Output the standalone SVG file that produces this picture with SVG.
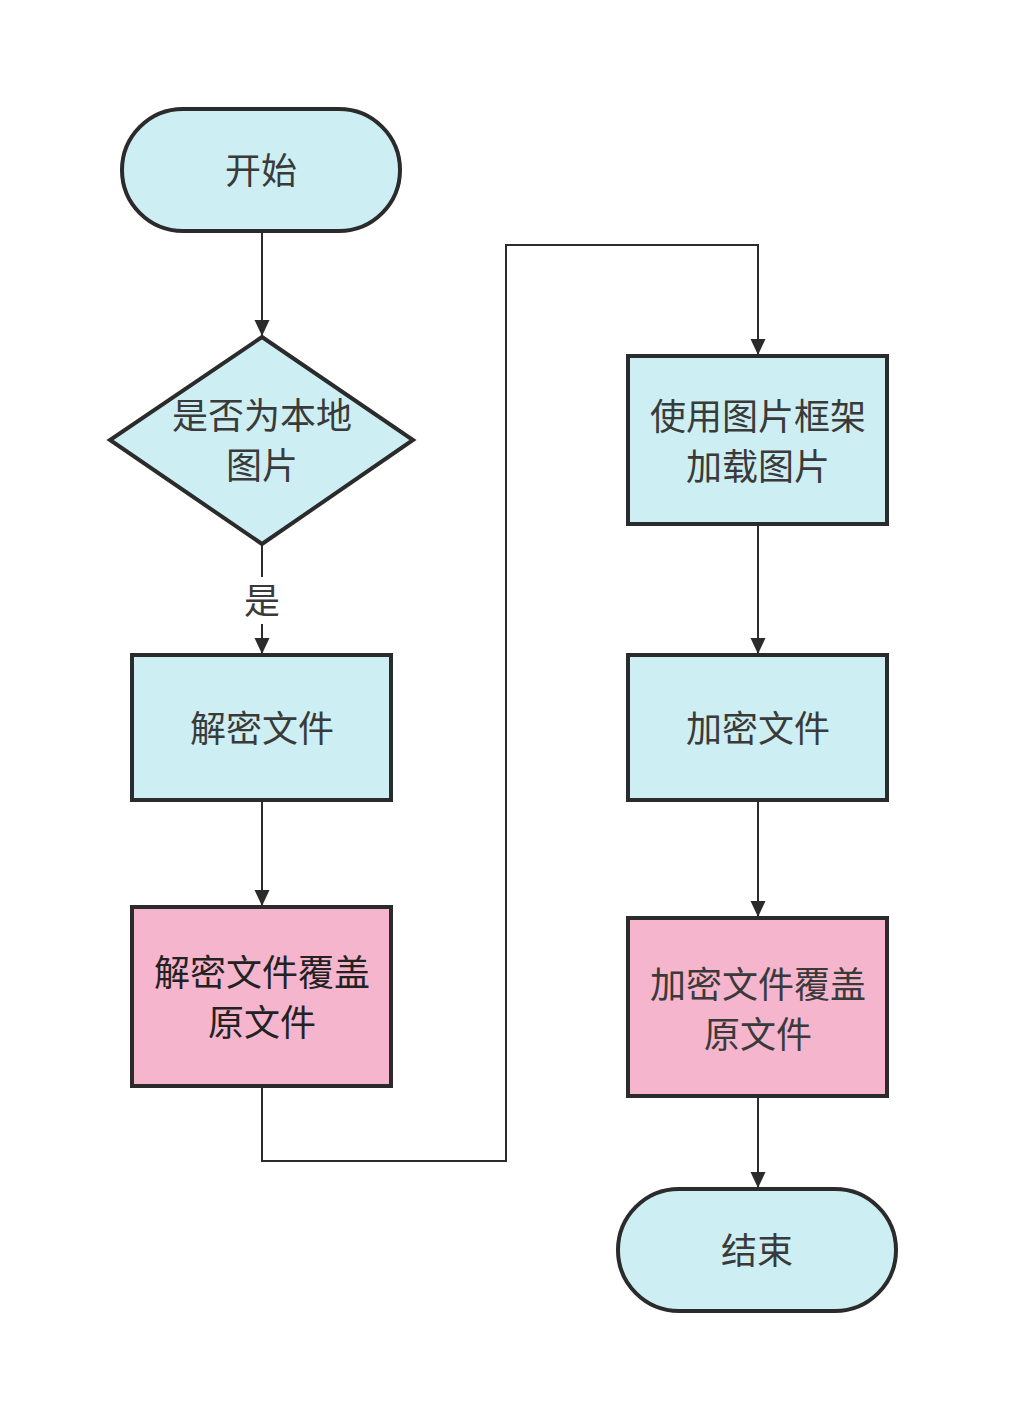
<svg xmlns="http://www.w3.org/2000/svg" width="1014" height="1414" viewBox="0 0 1014 1414">
<defs>
<marker id="arr" viewBox="0 0 16 18" refX="16" refY="9" markerWidth="16" markerHeight="18" markerUnits="userSpaceOnUse" orient="auto">
<path d="M0,1.5 L16,9 L0,16.5 Z" fill="#2b2b2b"/>
</marker>
<style>
.n{stroke:#2b2b2b;stroke-width:4;}
.c{fill:#cdeff3;}
.p{fill:#f5b5cd;}
.t{font-family:"Noto Sans CJK SC","Noto Sans",sans-serif;font-size:36px;fill:#3a3a3a;text-anchor:middle;dominant-baseline:central;}
.tp{fill:#222;}
.e{fill:none;stroke:#2b2b2b;stroke-width:2;}
</style>
</defs>
<rect width="1014" height="1414" fill="#ffffff"/>
<g id="edges">
<path class="e" d="M262,232 L262,336" marker-end="url(#arr)"/>
<path class="e" d="M262,545 L262,577"/>
<path class="e" d="M262,624 L262,654" marker-end="url(#arr)"/>
<path class="e" d="M262,801 L262,906" marker-end="url(#arr)"/>
<path class="e" d="M262,1087 L262,1161 L506,1161 L506,245 L758,245 L758,355" marker-end="url(#arr)"/>
<path class="e" d="M758,525 L758,654" marker-end="url(#arr)"/>
<path class="e" d="M758,801 L758,917" marker-end="url(#arr)"/>
<path class="e" d="M758,1097 L758,1188" marker-end="url(#arr)"/>
<text class="t" x="262" y="598">是</text>
</g>
<g id="start">
<rect class="n c" x="122" y="109" width="278" height="122" rx="61"/>
<text class="t" x="261" y="168">开始</text>
</g>
<g id="decision">
<polygon class="n c" points="262,337 413,440 262,544 110,440"/>
<text class="t" x="262" y="413">是否为本地</text>
<text class="t" x="262" y="463">图片</text>
</g>
<g id="decrypt">
<rect class="n c" x="132" y="655" width="259" height="145"/>
<text class="t" x="262" y="726">解密文件</text>
</g>
<g id="decrypt-overwrite">
<rect class="n p" x="132" y="907" width="259" height="179"/>
<text class="t tp" x="262" y="970">解密文件覆盖</text>
<text class="t tp" x="262" y="1020">原文件</text>
</g>
<g id="load">
<rect class="n c" x="628" y="356" width="259" height="168"/>
<text class="t" x="758" y="414">使用图片框架</text>
<text class="t" x="758" y="464">加载图片</text>
</g>
<g id="encrypt">
<rect class="n c" x="628" y="655" width="259" height="145"/>
<text class="t" x="758" y="726">加密文件</text>
</g>
<g id="encrypt-overwrite">
<rect class="n p" x="628" y="918" width="259" height="178"/>
<text class="t" x="758" y="982">加密文件覆盖</text>
<text class="t" x="758" y="1032">原文件</text>
</g>
<g id="end">
<rect class="n c" x="618" y="1189" width="278" height="122" rx="61"/>
<text class="t" x="757" y="1248">结束</text>
</g>
</svg>
